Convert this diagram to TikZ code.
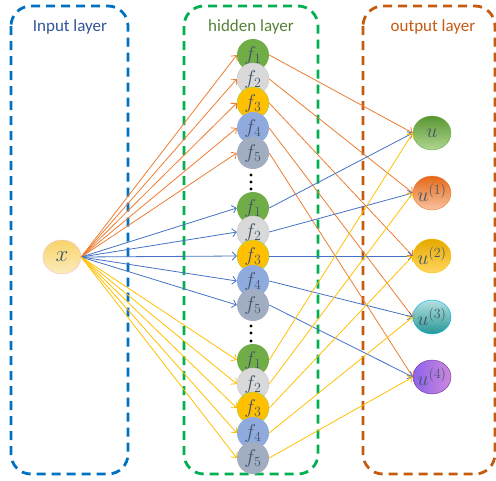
\RequirePackage{fix-cm}
\documentclass[tikz,border=0pt]{standalone}
\usepackage{fontspec}
\setmainfont{Carlito}
\usetikzlibrary{positioning,arrows.meta,shapes.geometric}
\definecolor{inblue}{RGB}{0,112,192}
\definecolor{hidgreen}{RGB}{0,176,80}
\definecolor{outbrown}{RGB}{197,90,17}
\definecolor{labblue}{RGB}{47,85,151}
\definecolor{labgreen}{RGB}{84,130,53}
\definecolor{lineorange}{RGB}{237,125,49}
\definecolor{lineblue}{RGB}{68,114,196}
\definecolor{lineyellow}{RGB}{255,192,0}
\definecolor{textgrey}{RGB}{68,84,106}
\newcommand{\nowidth}[1]{\makebox[0pt]{#1}}
\tikzset{
    layerbox/.style={
        dash pattern=on 9pt off 6pt,
        line width=2.8pt,
        rounded corners=20pt
    },
    layerlabel/.style={
        font=\fontsize{17}{20}\selectfont,
        anchor=center
    },
    hidden/.style={
        circle,
        minimum size=32pt,
        inner sep=0pt,
        text=textgrey,
        font=\fontsize{20}{24}\selectfont
    },
    fone/.style={hidden, fill={rgb,255:red,112;green,173;blue,71}},
    ftwo/.style={hidden, fill={rgb,255:red,217;green,217;blue,217}, draw={rgb,255:red,200;green,200;blue,200}},
    fthree/.style={hidden, fill={rgb,255:red,255;green,192;blue,0}, draw={rgb,255:red,146;green,208;blue,80}},
    ffour/.style={hidden, fill={rgb,255:red,143;green,170;blue,220}},
    ffive/.style={hidden, fill={rgb,255:red,161;green,174;blue,194}},
    outnode/.style={
        ellipse,
        minimum width=38pt,
        minimum height=34pt,
        inner sep=0pt,
        text=textgrey,
        font=\fontsize{20}{24}\selectfont
    },
    orangearrow/.style={->, lineorange, line width=0.8pt},
    bluearrow/.style={->, lineblue, line width=0.8pt},
    yellowarrow/.style={->, lineyellow, line width=0.8pt}
}

\begin{document}
\begin{tikzpicture}[x=1pt, y=-1pt, >={Straight Barb[length=4pt,width=8pt]}]
\useasboundingbox (0,0) rectangle (496,480);

% LAYER BOXES
\draw[layerbox, inblue] (11,6) rectangle (128,474);
\draw[layerbox, hidgreen] (184,6) rectangle (318,474);
\draw[layerbox, outbrown] (363,6) rectangle (495,474);

\node[layerlabel, text=labblue] (inlabel) at (70,27) {Input layer};
\node[layerlabel, text=labgreen] (hidlabel) at (251,27) {hidden layer};
\node[layerlabel, text=outbrown] (outlabel) at (433,27) {output layer};

% INPUT
\node[outnode, font=\fontsize{23}{27}\selectfont, top color={rgb,255:red,247;green,212;blue,105}, bottom color={rgb,255:red,252;green,236;blue,190}, draw={rgb,255:red,240;green,190;blue,205}] (x) at (62,257) {\nowidth{$x$}};

% FIRST GROUP
\node[fone] (fa1) at (253,55) {$f_1$};
\node[ftwo] (fa2) at (253,79) {$f_2$};
\node[fthree] (fa3) at (253,103) {$f_3$};
\node[ffour] (fa4) at (253,128) {$f_4$};
\node[ffive] (fa5) at (253,153) {$f_5$};

% SECOND GROUP
\node[fone] (fb1) at (253,208) {$f_1$};
\node[ftwo] (fb2) at (253,232) {$f_2$};
\node[fthree] (fb3) at (253,256) {$f_3$};
\node[ffour] (fb4) at (253,281) {$f_4$};
\node[ffive] (fb5) at (253,305) {$f_5$};

% THIRD GROUP
\node[fone] (fc1) at (253,360) {$f_1$};
\node[ftwo] (fc2) at (253,384) {$f_2$};
\node[fthree] (fc3) at (253,408) {$f_3$};
\node[ffour] (fc4) at (253,433) {$f_4$};
\node[ffive] (fc5) at (253,458) {$f_5$};

% DOTS
\fill (251,175) circle (1.6) (251,182) circle (1.6) (251,189) circle (1.6);
\fill (251,326) circle (1.6) (251,333) circle (1.6) (251,341) circle (1.6);

% OUTPUT
\node[outnode, top color={rgb,255:red,90;green,150;blue,50}, bottom color={rgb,255:red,175;green,215;blue,145}, draw={rgb,255:red,112;green,173;blue,71}] (u0) at (432,133) {\nowidth{$u$}};
\node[outnode, top color={rgb,255:red,228;green,105;blue,25}, bottom color={rgb,255:red,248;green,195;blue,160}, draw={rgb,255:red,237;green,125;blue,49}] (u1) at (432,193) {\nowidth{$u^{(1)}$}};
\node[outnode, top color={rgb,255:red,230;green,168;blue,0}, bottom color={rgb,255:red,255;green,215;blue,95}, draw={rgb,255:red,255;green,192;blue,0}] (u2) at (432,256) {\nowidth{$u^{(2)}$}};
\node[outnode, top color={rgb,255:red,178;green,225;blue,225}, bottom color={rgb,255:red,40;green,150;blue,150}, draw={rgb,255:red,0;green,176;blue,240}] (u3) at (432,317) {\nowidth{$u^{(3)}$}};
\node[outnode, left color={rgb,255:red,140;green,100;blue,235}, right color={rgb,255:red,205;green,135;blue,220}, draw={rgb,255:red,112;green,48;blue,160}] (u4) at (432,377) {\nowidth{$u^{(4)}$}};

% INPUT TO HIDDEN
\draw[orangearrow] (x.east) -- (fa1.west);
\draw[orangearrow] (x.east) -- (fa2.west);
\draw[orangearrow] (x.east) -- (fa3.west);
\draw[orangearrow] (x.east) -- (fa4.west);
\draw[orangearrow] (x.east) -- (fa5.west);

\draw[bluearrow] (x.east) -- (fb1.west);
\draw[bluearrow] (x.east) -- (fb2.west);
\draw[bluearrow] (x.east) -- (fb3.west);
\draw[bluearrow] (x.east) -- (fb4.west);
\draw[bluearrow] (x.east) -- (fb5.west);

\draw[yellowarrow] (x.east) -- (fc1.west);
\draw[yellowarrow] (x.east) -- (fc2.west);
\draw[yellowarrow] (x.east) -- (fc3.west);
\draw[yellowarrow] (x.east) -- (fc4.west);
\draw[yellowarrow] (x.east) -- (fc5.west);

% HIDDEN TO OUTPUT
\draw[orangearrow] (fa1.east) -- (u0.west);
\draw[orangearrow] (fa2.east) -- (u1.west);
\draw[orangearrow] (fa3.east) -- (u2.west);
\draw[orangearrow] (fa4.east) -- (u3.west);
\draw[orangearrow] (fa5.east) -- (u4.west);

\draw[bluearrow] (fb1.east) -- (u0.west);
\draw[bluearrow] (fb2.east) -- (u1.west);
\draw[bluearrow] (fb3.east) -- (u2.west);
\draw[bluearrow] (fb4.east) -- (u3.west);
\draw[bluearrow] (fb5.east) -- (u4.west);

\draw[yellowarrow] (fc1.east) -- (u0.west);
\draw[yellowarrow] (fc2.east) -- (u1.west);
\draw[yellowarrow] (fc3.east) -- (u2.west);
\draw[yellowarrow] (fc4.east) -- (u3.west);
\draw[yellowarrow] (fc5.east) -- (u4.west);

\end{tikzpicture}
\end{document}
